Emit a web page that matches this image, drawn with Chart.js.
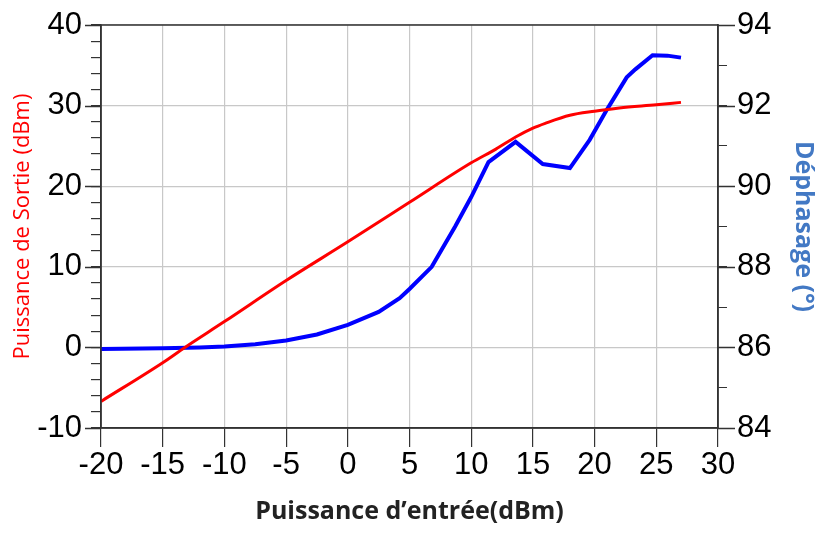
<!DOCTYPE html>
<html>
<head>
<meta charset="utf-8">
<script src="https://cdn.jsdelivr.net/npm/chart.js@4.4.0/dist/chart.umd.min.js"></script>
<style>
html, body { margin: 0; padding: 0; background: #fff; }
</style>
</head>
<body>
<canvas id="chart" width="818" height="533"></canvas>
<script>
// Puissance de sortie (dBm) vs puissance d'entrée
var redX = [-20, -15, -13.2, -10, -5, 0, 5, 10, 12, 13.6, 15, 16, 18, 20, 22, 25, 27];
var redY = [-6.7, -1.9, 0, 3.2, 8.3, 13.1, 18.0, 22.9, 24.6, 26.1, 27.2, 27.8, 28.8, 29.3, 29.7, 30.1, 30.4];

// Déphasage (°) vs puissance d'entrée
var blueX = [-20, -15, -12, -10, -7.5, -5, -2.5, 0, 2.5, 4.2, 5, 6.8, 8.7, 10, 11.4, 13.6, 15.8, 18, 19.6, 21, 22.6, 23.3, 24.7, 25.9, 27];
var blueY = [85.96, 85.98, 86.0, 86.02, 86.08, 86.17, 86.32, 86.56, 86.88, 87.22, 87.45, 88.0, 89.0, 89.73, 90.6, 91.1, 90.55, 90.45, 91.15, 91.9, 92.7, 92.9, 93.25, 93.24, 93.19];

var xTicks = [-20, 30, 5];
var leftRange = [-10, 40, 2];
var rightRange = [84, 94, 1];

function pts(xs, ys) {
  return xs.map(function (x, i) { return { x: x, y: ys[i] }; });
}

var tickFont = { family: "'Liberation Sans', Arial, sans-serif", size: 31 };

var frame = {
  id: 'frame',
  afterDraw: function (chart) {
    var c = chart.ctx, a = chart.chartArea;
    var yl = chart.scales.y, yr = chart.scales.y1;
    c.save();
    c.strokeStyle = '#333';
    c.lineWidth = 1.5;
    c.strokeRect(a.left, a.top, a.right - a.left, a.bottom - a.top);
    c.lineWidth = 1.3;
    c.beginPath();
    // longer marks on the major ticks
    for (var v = leftRange[0]; v <= leftRange[1]; v += 10) {
      var py = Math.round(yl.getPixelForValue(v)) + 0.5;
      c.moveTo(a.left - 16, py); c.lineTo(a.left, py);
    }
    for (var w = rightRange[0]; w <= rightRange[1]; w += 2) {
      var qy = Math.round(yr.getPixelForValue(w)) + 0.5;
      c.moveTo(a.right, qy); c.lineTo(a.right + 17, qy);
    }
    c.stroke();
    c.restore();
  }
};

var ctx = document.getElementById("chart").getContext('2d');
var chart = new Chart(ctx, {
  type: 'line',
  data: {
    datasets: [{
      label: 'Puissance de Sortie',
      data: pts(redX, redY),
      borderColor: '#ff0000',
      borderWidth: 3,
      pointRadius: 0,
      cubicInterpolationMode: 'monotone',
      yAxisID: 'y'
    }, {
      label: 'Déphasage',
      data: pts(blueX, blueY),
      borderColor: '#0000ff',
      borderWidth: 4,
      pointRadius: 0,
      tension: 0,
      yAxisID: 'y1'
    }]
  },
  options: {
    responsive: false,
    animation: false,
    layout: { padding: 0 },
    plugins: { legend: { display: false }, tooltip: { enabled: false } },
    scales: {
      x: {
        type: 'linear',
        min: xTicks[0], max: xTicks[1],
        afterFit: function (s) { s.height = 105; },
        ticks: { stepSize: xTicks[2], color: '#000', font: tickFont, padding: 0, maxRotation: 0 },
        grid: { color: '#c8c8c8', tickColor: '#333', tickLength: 19, lineWidth: 1.2 },
        border: { color: '#333', width: 1.5 },
        title: {
          display: true,
          text: 'Puissance d\u2019entrée(dBm)',
          color: '#222',
          font: { family: "'Open Sans', sans-serif", size: 25, weight: 'bold' },
          padding: { top: 0, bottom: 6 }
        }
      },
      y: {
        position: 'left',
        min: leftRange[0], max: leftRange[1],
        afterFit: function (s) { s.width = 101; s.paddingTop = 25; },
        ticks: {
          stepSize: leftRange[2], autoSkip: false, color: '#000', font: tickFont, padding: 9,
          callback: function (v) { return v % 10 === 0 ? v : ''; }
        },
        grid: {
          color: function (c) { return c.tick && c.tick.value % 10 === 0 ? '#c8c8c8' : 'rgba(0,0,0,0)'; },
          tickColor: '#333', tickLength: 10, lineWidth: 1.2
        },
        border: { color: '#333', width: 1.5 },
        title: {
          display: true,
          text: 'Puissance de Sortie (dBm)',
          color: '#ff0000',
          font: { family: "'Open Sans', sans-serif", size: 22 },
          padding: { top: 10, bottom: 0 }
        }
      },
      y1: {
        position: 'right',
        min: rightRange[0], max: rightRange[1],
        afterFit: function (s) { s.width = 100; s.paddingTop = 25; },
        ticks: {
          stepSize: rightRange[2], autoSkip: false, color: '#000', font: tickFont, padding: 10,
          callback: function (v) { return v % 2 === 0 ? v : ''; }
        },
        grid: { drawOnChartArea: false, tickColor: '#333', tickLength: 9 },
        border: { color: '#333', width: 1.5 },
        title: {
          display: true,
          text: 'Déphasage (°)',
          color: '#4379c4',
          font: { family: "'Open Sans', sans-serif", size: 25, weight: 'bold' },
          padding: { top: 0, bottom: 0 }
        }
      }
    }
  },
  plugins: [frame]
});
</script>
</body>
</html>
